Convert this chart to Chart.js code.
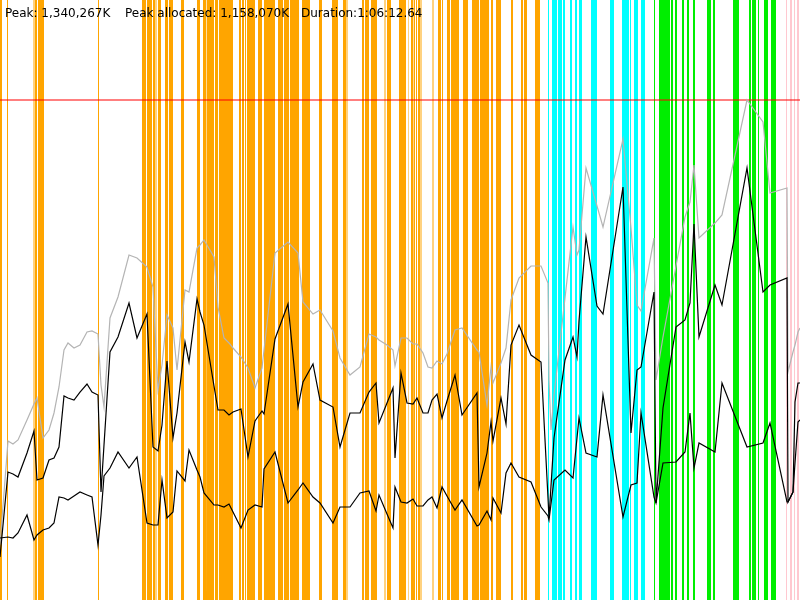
<!DOCTYPE html>
<html>
<head>
<meta charset="utf-8">
<script src="https://cdn.jsdelivr.net/npm/chart.js@4.4.1/dist/chart.umd.min.js"></script>
<style>
  html, body { margin: 0; padding: 0; background: #fff; }
  #wrap { position: relative; width: 800px; height: 600px; overflow: hidden; }
  #c { position: absolute; left: 0; top: 0; }
  .hdr { position: absolute; top: 6px; font: 12px "DejaVu Sans", sans-serif; line-height: 14px; color: #000; white-space: pre; }
</style>
</head>
<body>
<div id="wrap">
  <canvas id="c" width="800" height="600"></canvas>
  <span class="hdr" id="h1" style="left:5px"></span>
  <span class="hdr" id="h2" style="left:125px"></span>
  <span class="hdr" id="h3" style="left:301px"></span>
</div>
<script>
// ---- summary values (K) ----
const PEAK = 1340267;
const PEAK_ALLOCATED = 1158070;
const DURATION = "1:06:12.64";
const headerLabels = ["Peak: 1,340,267K", "Peak allocated: 1,158,070K", "Duration:" + DURATION];

// ---- sample times (timeline units, 0..800) ----
const times = [0,8,13,18,27,34,37,43,49,54,59,64,68,74,80,87,92,98,101,104,110,118,129,137,147,153,158,162,167,173,177,185,189,197,200,204,214,218,224,229,233,241,248,255,262,264,275,288,298,303,313,320,333,340,350,360,369,376,379,387,393,395,401,407,413,417,423,428,432,437,442,447,455,462,477,479,487,491,493,501,506,511,519,531,541,548,549,551,554,565,573,577,579,586,597,603,623,631,637,641,654,656,663,676,685,690,694,699,715,722,747,763,770,787,788,793,795,798,800];

// ---- heap size (K), grey line ----
const heapSize = [147400,426200,418200,428900,482500,525400,541500,434200,455700,501300,571000,670100,688900,675500,683500,718400,721100,713000,576300,517300,755900,812200,924800,916700,892600,839000,562900,629900,764000,729100,616500,831000,825600,943500,951600,965000,919400,785400,702300,688900,675500,651400,621900,568300,621900,670100,930100,959600,930100,798800,766600,777300,721100,648700,603100,624600,713000,705000,696900,683500,670100,627200,702300,702300,686200,686200,662100,624600,621900,640600,632600,659400,723700,729100,670100,664800,522700,624600,581700,635300,675500,804200,863100,895300,895300,849700,589700,455700,549500,809500,999800,924800,938200,1158000,1056100,999800,1235700,997100,790700,774700,970300,589700,705000,895300,1026600,1066800,1166000,970300,1010500,1032000,1340267,1281300,1091000,1104400,611200,664800,683500,718400,729100];

// ---- allocated (K), upper black line ----
const allocated = [115300,343100,337700,329700,394000,453000,321700,327000,375300,380600,410100,546800,541500,536100,557500,579000,557500,549500,289500,415500,664800,705000,796100,702300,766600,410100,399400,469100,640600,434200,501300,691600,638000,806800,772000,737100,573600,509300,509300,495900,503900,512000,383300,479800,506600,498600,699600,793400,517300,584300,632600,536100,517300,410100,501300,501300,557500,581700,474500,528100,568300,380600,608500,528100,525400,541500,501300,501300,536100,552200,487900,533400,603100,495900,554900,302900,394000,477100,426200,541500,471800,683500,737100,656700,638000,273400,219800,305600,434200,643300,705000,651400,747900,973000,788100,766600,1107000,447600,616500,624600,825600,260000,514700,731800,750500,796100,1007900,705000,844400,790700,1158070,825600,844400,863100,262700,289500,530700,581700,581700];

// ---- live (K), lower black line ----
const live = [166200,168900,166200,179600,227800,160800,174200,187600,193000,206400,276100,273400,268100,278800,289500,281500,276100,147400,227800,332400,353800,396700,353800,383300,206400,201000,201000,321700,219800,235900,345800,319000,402100,348500,329700,286800,254600,254600,249300,257300,235900,193000,241200,254600,249300,351100,396700,260000,294900,313600,276100,260000,206400,249300,249300,286800,292200,238600,281500,230500,193000,302900,262700,260000,270700,252000,252000,268100,276100,246600,302900,278800,241200,268100,198400,201000,238600,214400,273400,233200,340400,367200,329700,316300,249300,225200,214400,257300,321700,348500,327000,434200,487900,394000,383300,549500,222500,308300,313600,501300,276100,260000,367200,369900,396700,501300,353800,420800,396700,581700,410100,420800,474500,262700,262700,289500,367200,477100,482500];

// ---- event stripes on the timeline: [start, end) ----
const orangeSpans = [[0,2],[7,8],[35,37],[38,44],[98,99],[142,146],[147,152],[153,155],[158,161],[165,168],[169,173],[181,184],[197,200],[203,206],[207,214],[215,218],[219,233],[239,241],[242,244],[245,246],[247,255],[258,262],[264,275],[278,283],[284,289],[290,299],[302,310],[319,322],[332,338],[343,346],[362,364],[365,369],[371,377],[387,391],[399,406],[411,413],[414,415],[416,417],[418,420],[438,441],[442,443],[447,450],[451,459],[463,468],[472,479],[480,489],[491,493],[496,501],[511,513],[521,523],[524,527],[535,540]];
const lightOrangeSpans = [[33,35],[155,157],[346,348],[384,386],[408,409],[420,422],[432,434]];
const cyanSpans = [[548,549],[552,557],[558,562],[563,565],[570,572],[575,577],[579,582],[591,597],[610,614],[622,629],[630,631],[634,638],[641,645]];
const greenSpans = [[654,655],[659,670],[671,673],[675,677],[682,684],[687,689],[693,695],[707,711],[713,715],[733,739],[749,751],[752,756],[758,759],[764,768],[771,776]];
const pinkSpans = [[786,787],[790,792],[794,795],[797,799]];

const TIMELINE_END = 800;

// stripe outline built from the spans (full-height bands on a 0..1 axis)
function band(spans) {
  const out = [];
  spans.forEach(([a, b]) => {
    out.push({ x: a, y: 0 }, { x: a, y: 1 }, { x: b, y: 1 }, { x: b, y: 0 });
  });
  return out;
}
function stripeSet(spans, color) {
  return { data: band(spans), backgroundColor: color, borderColor: 'rgba(0,0,0,0)', borderWidth: 0,
           fill: 'origin', pointRadius: 0, tension: 0, xAxisID: 'x', yAxisID: 'yb', order: 10 };
}

const pts = arr => times.map((t, i) => ({ x: t, y: arr[i] }));

document.getElementById('h1').textContent = headerLabels[0];
document.getElementById('h2').textContent = headerLabels[1];
document.getElementById('h3').textContent = headerLabels[2];

new Chart(document.getElementById('c'), {
  type: 'line',
  data: {
    datasets: [
      stripeSet(lightOrangeSpans, '#FFD280'),
      stripeSet(orangeSpans, '#FFA500'),
      stripeSet(cyanSpans, '#00FFFF'),
      stripeSet(greenSpans, '#00EE00'),
      stripeSet(pinkSpans, '#FFC8D0'),
      { data: [{ x: 0, y: PEAK }, { x: TIMELINE_END, y: PEAK }],
        borderColor: 'rgba(255,0,0,0.5)', borderWidth: 2, pointRadius: 0, fill: false,
        xAxisID: 'x', yAxisID: 'y', order: 5 },
      { data: pts(heapSize), borderColor: '#B4B4B4', borderWidth: 1.2, pointRadius: 0, tension: 0, fill: false,
        xAxisID: 'x', yAxisID: 'y', order: 3 },
      { data: pts(allocated), borderColor: '#000', borderWidth: 1.2, pointRadius: 0, tension: 0, fill: false,
        xAxisID: 'x', yAxisID: 'y', order: 2 },
      { data: pts(live), borderColor: '#000', borderWidth: 1.2, pointRadius: 0, tension: 0, fill: false,
        xAxisID: 'x', yAxisID: 'y', order: 1 }
    ]
  },
  options: {
    responsive: false,
    animation: false,
    layout: { padding: 0 },
    plugins: { legend: { display: false }, tooltip: { enabled: false }, title: { display: false } },
    scales: {
      x: { type: 'linear', display: false, offset: false, min: 0, max: TIMELINE_END },
      y: { type: 'linear', display: false, min: 0, max: PEAK * 1.2 },
      yb: { type: 'linear', display: false, min: 0, max: 1 }
    }
  }
});
</script>
</body>
</html>
